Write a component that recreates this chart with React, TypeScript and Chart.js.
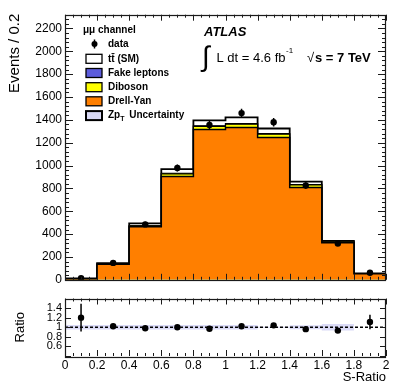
import React, { useEffect, useRef } from "react";
import { Chart, registerables } from "chart.js";

Chart.register(...registerables);

// ---------------- data ----------------
const binEdges = [0, 0.2, 0.4, 0.6, 0.8, 1.0, 1.2, 1.4, 1.6, 1.8, 2.0];
const binCenters = [0.1, 0.3, 0.5, 0.7, 0.9, 1.1, 1.3, 1.5, 1.7, 1.9];

const drellYan = [9, 135, 465, 905, 1315, 1332, 1246, 808, 325, 52];
const diboson = [1, 3, 8, 22, 28, 30, 28, 22, 7, 1.5];
const fakeLeptons = [0.5, 1, 2, 4, 5, 5, 5, 4, 2, 0.5];
const ttbar = [2, 6, 18, 38, 48, 55, 45, 26, 7, 2];

const dataCounts = [15, 148, 485, 978, 1355, 1459, 1379, 825, 317, 62];
const dataErrors = [4, 12, 22, 31, 37, 38, 37, 29, 18, 8];

const ratioValues = [1.2, 1.02, 0.98, 1.0, 0.97, 1.02, 1.04, 0.96, 0.93, 1.11];
const ratioErrors = [0.29, 0.05, 0.03, 0.03, 0.03, 0.03, 0.03, 0.03, 0.04, 0.15];
const ratioBand = [0.045, 0.045, 0.045, 0.045, 0.045, 0.045, 0.01, 0.04, 0.07, 0];
const ratioRefLine = [1, 1];

const mainYTicks = [0, 200, 400, 600, 800, 1000, 1200, 1400, 1600, 1800, 2000, 2200];
const mainYTickLabels = ["0", "200", "400", "600", "800", "1000", "1200", "1400", "1600", "1800", "2000", "2200"];
const xTicks = [0, 0.2, 0.4, 0.6, 0.8, 1, 1.2, 1.4, 1.6, 1.8, 2];
const xTickLabels = ["0", "0.2", "0.4", "0.6", "0.8", "1", "1.2", "1.4", "1.6", "1.8", "2"];
const ratioYTicks = [0.6, 0.8, 1, 1.2, 1.4];
const ratioYTickLabels = ["0.6", "0.8", "1", "1.2", "1.4"];

const legendLabels = ["data", "t\u0074\u0304 (SM)", "Fake leptons", "Diboson", "Drell-Yan", "Zp", "Uncertainty"];

// ---------------- styles ----------------
const COL_DY = "#ff7f00";
const COL_DIB = "#ffff00";
const COL_FAKE = "#5c5cdc";
const COL_TT = "#ffffff";
const COL_UNC = "#dadaf6";
const FONT = "'Liberation Sans', Arial, Helvetica, sans-serif";

const W = 407;
const MAIN_H = 290;
const RATIO_H = 98;

function cumulative(...arrs: number[][]) {
  return arrs[0].map((_, i) => arrs.reduce((s, a) => s + a[i], 0));
}

function histPoints(vals: number[], closed = true) {
  const pts: { x: number; y: number }[] = [];
  if (closed) pts.push({ x: binEdges[0], y: 0 });
  vals.forEach((v, i) => pts.push({ x: binEdges[i], y: v }));
  pts.push({ x: binEdges[vals.length], y: vals[vals.length - 1] });
  if (closed) pts.push({ x: binEdges[vals.length], y: 0 });
  return pts;
}

function labelFor(values: number[], labels: string[]) {
  return (v: number) => {
    const idx = values.findIndex((t) => Math.abs(t - v) < 1e-6);
    return idx >= 0 ? labels[idx] : "";
  };
}

function drawFrameTicks(chart: any, cfg: { yMajor: number[]; yMinorStep: number; yMajorLen: number; yMinorLen: number; xMajorLen: number; xMinorLen: number }) {
  const { ctx, chartArea } = chart;
  const { left, right, top, bottom } = chartArea;
  const xs = chart.scales.x;
  const ys = chart.scales.y;
  ctx.save();
  ctx.strokeStyle = "#1a1a1a";
  ctx.lineWidth = 1;
  ctx.beginPath();
  for (let k = 0; k <= 40; k++) {
    const v = k * 0.05;
    const px = Math.round(xs.getPixelForValue(v)) + 0.5;
    const len = k % 4 === 0 ? cfg.xMajorLen : cfg.xMinorLen;
    ctx.moveTo(px, bottom);
    ctx.lineTo(px, bottom - len);
    ctx.moveTo(px, top);
    ctx.lineTo(px, top + len);
  }
  const yMin = ys.min;
  const yMax = ys.max;
  if (cfg.yMinorStep > 0) {
    const n = Math.floor((yMax - yMin) / cfg.yMinorStep + 1e-6);
    for (let k = 0; k <= n; k++) {
      const v = yMin + k * cfg.yMinorStep;
      const py = Math.round(ys.getPixelForValue(v)) + 0.5;
      ctx.moveTo(left, py);
      ctx.lineTo(left + cfg.yMinorLen, py);
      ctx.moveTo(right, py);
      ctx.lineTo(right - cfg.yMinorLen, py);
    }
  }
  cfg.yMajor.forEach((v) => {
    const py = Math.round(ys.getPixelForValue(v)) + 0.5;
    ctx.moveTo(left, py);
    ctx.lineTo(left + cfg.yMajorLen, py);
    ctx.moveTo(right, py);
    ctx.lineTo(right - cfg.yMajorLen, py);
  });
  ctx.stroke();
  ctx.lineWidth = 1.2;
  ctx.strokeRect(Math.round(left) + 0.5, Math.round(top) + 0.5, Math.round(right - left) - 1, Math.round(bottom - top));
  ctx.restore();
}

function drawErrorBars(chart: any, centers: number[], vals: number[], errs: number[]) {
  const { ctx } = chart;
  const xs = chart.scales.x;
  const ys = chart.scales.y;
  ctx.save();
  ctx.strokeStyle = "#000";
  ctx.lineWidth = 1.5;
  ctx.beginPath();
  centers.forEach((c, i) => {
    const px = xs.getPixelForValue(c);
    ctx.moveTo(px, ys.getPixelForValue(vals[i] + errs[i]));
    ctx.lineTo(px, ys.getPixelForValue(vals[i] - errs[i]));
  });
  ctx.stroke();
  ctx.restore();
}

function MainPanel() {
  const ref = useRef<HTMLCanvasElement>(null);
  useEffect(() => {
    if (!ref.current) return;
    const total = cumulative(drellYan, diboson, fakeLeptons, ttbar);
    const cumFake = cumulative(drellYan, diboson, fakeLeptons);
    const cumDib = cumulative(drellYan, diboson);
    const cumDY = drellYan.slice();

    const stackDs = (label: string, vals: number[], color: string, bw: number) => ({
      type: "line" as const,
      label,
      data: histPoints(vals),
      stepped: true,
      fill: "origin",
      backgroundColor: color,
      borderColor: "#000",
      borderWidth: bw,
      pointRadius: 0,
    });

    const plugin = {
      id: "mainDecor",
      afterDatasetsDraw(chart: any) {
        drawErrorBars(chart, binCenters, dataCounts, dataErrors);
      },
      afterDraw(chart: any) {
        drawFrameTicks(chart, { yMajor: mainYTicks, yMinorStep: 40, yMajorLen: 8, yMinorLen: 4, xMajorLen: 6, xMinorLen: 3 });
        const ctx = chart.ctx;
        ctx.save();
        ctx.translate(15, chart.chartArea.top - 1);
        ctx.rotate(-Math.PI / 2);
        ctx.fillStyle = "#000";
        ctx.font = `15px ${FONT}`;
        ctx.textAlign = "right";
        ctx.textBaseline = "middle";
        ctx.fillText("Events / 0.2", 0, 0);
        ctx.restore();

        // legend
        ctx.save();
        ctx.fillStyle = "#000";
        ctx.textBaseline = "middle";
        ctx.textAlign = "left";
        ctx.font = `bold 10px ${FONT}`;
        ctx.fillText("\u03bc\u03bc channel", 83, 30);
        ctx.beginPath();
        ctx.arc(94.5, 44, 3, 0, Math.PI * 2);
        ctx.fill();
        ctx.strokeStyle = "#000";
        ctx.lineWidth = 1.5;
        ctx.beginPath();
        ctx.moveTo(94.5, 39.5);
        ctx.lineTo(94.5, 48.5);
        ctx.stroke();
        ctx.fillText(legendLabels[0], 108, 44);
        const boxes = [
          { y: 58.8, c: COL_TT, lbl: legendLabels[1], lw: 1.3 },
          { y: 73, c: COL_FAKE, lbl: legendLabels[2], lw: 1.3 },
          { y: 87.2, c: COL_DIB, lbl: legendLabels[3], lw: 1.3 },
          { y: 101.3, c: COL_DY, lbl: legendLabels[4], lw: 1.3 },
          { y: 115.6, c: COL_UNC, lbl: "", lw: 2 },
        ];
        boxes.forEach((b) => {
          ctx.fillStyle = b.c;
          ctx.fillRect(86, b.y - 4.5, 16, 9);
          ctx.strokeStyle = "#000";
          ctx.lineWidth = b.lw;
          ctx.strokeRect(86, b.y - 4.5, 16, 9);
          ctx.fillStyle = "#000";
          if (b.lbl) ctx.fillText(b.lbl, 108, b.y);
        });
        ctx.fillText(legendLabels[5], 108, 115.6);
        const zpW = ctx.measureText(legendLabels[5]).width;
        ctx.font = `bold 7px ${FONT}`;
        ctx.fillText("T", 108 + zpW, 119);
        ctx.font = `bold 10px ${FONT}`;
        ctx.fillText(legendLabels[6], 108 + zpW + 9, 115.6);

        // ATLAS label
        ctx.font = `italic bold 13px ${FONT}`;
        ctx.fillText("ATLAS", 204, 32);
        ctx.font = `28px ${FONT}`;
        ctx.fillText("\u222b", 202, 58);
        ctx.font = `13px ${FONT}`;
        ctx.fillText("L dt = 4.6 fb", 216.5, 58.5);
        const w1 = ctx.measureText("L dt = 4.6 fb").width;
        ctx.font = `8px ${FONT}`;
        ctx.fillText("-1", 216.5 + w1 + 0.5, 51);
        ctx.font = `13px ${FONT}`;
        ctx.fillText("\u221a", 307, 58.5);
        ctx.font = `bold 13px ${FONT}`;
        ctx.fillText("s = 7 TeV", 315, 58.5);
        ctx.restore();
      },
    };

    const chart = new Chart(ref.current, {
      type: "line",
      data: {
        datasets: [
          {
            type: "line",
            label: "data",
            data: binCenters.map((x, i) => ({ x, y: dataCounts[i] })),
            showLine: false,
            pointRadius: 3.2,
            pointBackgroundColor: "#000",
            pointBorderColor: "#000",
            pointBorderWidth: 0,
          } as any,
          stackDs("Drell-Yan", cumDY, COL_DY, 1.5),
          stackDs("Diboson", cumDib, COL_DIB, 1.2),
          stackDs("Fake leptons", cumFake, COL_FAKE, 1.2),
          stackDs("tt", total, COL_TT, 1.8),
        ],
      },
      options: {
        responsive: false,
        animation: false,
        layout: { padding: { left: 0, right: W - 386, top: 14.7, bottom: MAIN_H - 282.7 } },
        plugins: { legend: { display: false }, tooltip: { enabled: false } },
        scales: {
          x: { type: "linear", min: 0, max: 2, display: false },
          y: {
            type: "linear",
            min: 0,
            max: 2320,
            grid: { display: false, drawTicks: false },
            border: { display: false },
            ticks: {
              padding: 3,
              color: "#000",
              autoSkip: false,
              font: { family: FONT, size: 12 },
              callback: labelFor(mainYTicks, mainYTickLabels),
            },
            afterBuildTicks: (scale: any) => {
              scale.ticks = mainYTicks.map((v) => ({ value: v }));
            },
            afterFit: (scale: any) => {
              scale.width = 65;
            },
          } as any,
        },
      } as any,
      plugins: [plugin],
    });
    return () => chart.destroy();
  }, []);
  return <canvas ref={ref} width={W} height={MAIN_H} style={{ position: "absolute", left: 0, top: 0, width: W, height: MAIN_H }} />;
}

function RatioPanel() {
  const ref = useRef<HTMLCanvasElement>(null);
  useEffect(() => {
    if (!ref.current) return;
    const upper = ratioBand.map((e) => 1 + e);
    const lower = ratioBand.map((e) => 1 - e);
    const plugin = {
      id: "ratioDecor",
      afterDatasetsDraw(chart: any) {
        drawErrorBars(chart, binCenters, ratioValues, ratioErrors);
      },
      afterDraw(chart: any) {
        drawFrameTicks(chart, { yMajor: ratioYTicks.concat([0.4, 1.6]), yMinorStep: 0, yMajorLen: 6, yMinorLen: 3, xMajorLen: 6, xMinorLen: 3 });
        const ctx = chart.ctx;
        ctx.save();
        ctx.fillStyle = "#000";
        ctx.font = `13px ${FONT}`;
        ctx.textBaseline = "middle";
        ctx.textAlign = "right";
        ctx.fillText("S-Ratio", 386, 377 - 290);
        ctx.translate(20, (chart.chartArea.top + chart.chartArea.bottom) / 2);
        ctx.rotate(-Math.PI / 2);
        ctx.textAlign = "center";
        ctx.fillText("Ratio", 0, 0);
        ctx.restore();
      },
    };
    const chart = new Chart(ref.current, {
      type: "line",
      data: {
        datasets: [
          {
            label: "ratio",
            data: binCenters.map((x, i) => ({ x, y: ratioValues[i] })),
            showLine: false,
            pointRadius: 3.2,
            pointBackgroundColor: "#000",
            pointBorderWidth: 0,
          },
          {
            label: "ref",
            data: [
              { x: binEdges[0], y: ratioRefLine[0] },
              { x: binEdges[binEdges.length - 1], y: ratioRefLine[1] },
            ],
            borderColor: "#000",
            borderWidth: 1.5,
            borderDash: [3, 2],
            pointRadius: 0,
            fill: false,
          },
          {
            label: "band+",
            data: histPoints(upper, false),
            stepped: true,
            borderWidth: 0,
            borderColor: "rgba(0,0,0,0)",
            backgroundColor: COL_UNC,
            pointRadius: 0,
            fill: "+1",
          },
          {
            label: "band-",
            data: histPoints(lower, false),
            stepped: true,
            borderWidth: 0,
            borderColor: "rgba(0,0,0,0)",
            pointRadius: 0,
            fill: false,
          },
        ],
      } as any,
      options: {
        responsive: false,
        animation: false,
        layout: { padding: { left: 0, right: W - 386, top: 5, bottom: 0 } },
        plugins: { legend: { display: false }, tooltip: { enabled: false } },
        scales: {
          x: {
            type: "linear",
            min: 0,
            max: 2,
            grid: { display: false, drawTicks: false },
            border: { display: false },
            ticks: {
              padding: 2,
              color: "#000",
              autoSkip: false,
              maxRotation: 0,
              font: { family: FONT, size: 12 },
              callback: labelFor(xTicks, xTickLabels),
            },
            afterBuildTicks: (scale: any) => {
              scale.ticks = xTicks.map((v) => ({ value: v }));
            },
            afterFit: (scale: any) => {
              scale.height = RATIO_H - 66;
            },
          },
          y: {
            type: "linear",
            min: 0.4,
            max: 1.6,
            grid: { display: false, drawTicks: false },
            border: { display: false },
            ticks: {
              padding: 3,
              color: "#000",
              autoSkip: false,
              font: { family: FONT, size: 11, lineHeight: 1 },
              callback: labelFor(ratioYTicks, ratioYTickLabels),
            },
            afterBuildTicks: (scale: any) => {
              scale.ticks = ratioYTicks.map((v) => ({ value: v }));
            },
            afterFit: (scale: any) => {
              scale.width = 65;
            },
          },
        },
      } as any,
      plugins: [plugin],
    });
    return () => chart.destroy();
  }, []);
  return <canvas ref={ref} width={W} height={RATIO_H} style={{ position: "absolute", left: 0, top: MAIN_H, width: W, height: RATIO_H }} />;
}

export default function App() {
  return (
    <div style={{ position: "absolute", left: 0, top: 0, width: W, height: 388, background: "#fff" }}>
      <MainPanel />
      <RatioPanel />
    </div>
  );
}
